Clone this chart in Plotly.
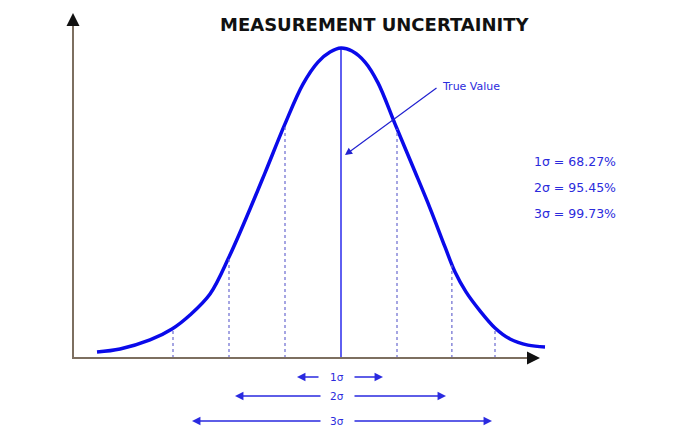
import numpy as np
import plotly.graph_objects as go

# ---- data (x in sigma units, y relative density) ----
curve_x = [-4.357, -3.946, -3.411, -3.018, -2.696, -2.339, -2.0, -1.625, -1.357, -1.0, -0.679, -0.411,
           -0.196, 0.0, 0.196, 0.429, 0.661, 0.964, 1.286, 1.589, 1.857, 2.036, 2.232, 2.482, 2.75,
           3.018, 3.339, 3.643]
curve_y = [0.0065, 0.0163, 0.0458, 0.0817, 0.1275, 0.196, 0.317, 0.474, 0.592, 0.752, 0.882, 0.954,
           0.987, 1.0, 0.990, 0.954, 0.886, 0.752, 0.611, 0.477, 0.350, 0.268, 0.203, 0.141, 0.085,
           0.049, 0.029, 0.023]
sigma_marks = [-3.0, -2.0, -1.0, 1.0, 1.98, 2.75]
true_value = 0.0
legend_lines = ["1σ = 68.27%", "2σ = 95.45%", "3σ = 99.73%"]
band_labels = ["1σ", "2σ", "3σ"]
title_text = "MEASUREMENT UNCERTAINITY"

W, H = 700, 447
X0, PX_PER_UNIT = 341, 56
Y0, PY_PER_UNIT = 354, 306
def dx(px): return (px - X0) / PX_PER_UNIT
def dy(py): return (Y0 - py) / PY_PER_UNIT

BLUE = "#0a0aea"
TXT_BLUE = "#2b2bdc"
AXIS = "#7d6f60"

fig = go.Figure()
fig.add_trace(go.Scatter(x=curve_x, y=curve_y, mode="lines",
                         line=dict(color=BLUE, width=3.5, shape="spline", smoothing=1.0),
                         hoverinfo="skip", showlegend=False))

base = dy(358)
for m in sigma_marks:
    top = float(np.interp(m, curve_x, curve_y))
    fig.add_trace(go.Scatter(x=[m, m], y=[base, top], mode="lines",
                             line=dict(color="#6a6ad0", width=1.2, dash="dot"),
                             hoverinfo="skip", showlegend=False))
fig.add_trace(go.Scatter(x=[true_value, true_value], y=[base, max(curve_y)], mode="lines",
                         line=dict(color=BLUE, width=1.3), hoverinfo="skip", showlegend=False))

shapes = [
    dict(type="line", xref="x", yref="y", x0=dx(73), y0=dy(359), x1=dx(73), y1=dy(20),
         line=dict(color=AXIS, width=2)),
    dict(type="line", xref="x", yref="y", x0=dx(72), y0=dy(358), x1=dx(532), y1=dy(358),
         line=dict(color=AXIS, width=2)),
]

def P(px, py):
    return px / W, 1 - py / H

anns = []
for (hx, hy, ax, ay) in [(73, 13, 0, 7), (540, 358, -7, 0)]:
    x, y = P(hx, hy)
    anns.append(dict(x=x, y=y, xref="paper", yref="paper", ax=ax, ay=ay, text="",
                     showarrow=True, arrowhead=2, arrowsize=1.3, arrowwidth=2, arrowcolor="#111111"))

x, y = P(374, 25)
anns.append(dict(x=x, y=y, xref="paper", yref="paper", text="<b>" + title_text + "</b>", showarrow=False,
                 xanchor="center", yanchor="middle",
                 font=dict(family="DejaVu Sans", size=18, color="#111111")))

x, y = P(345, 155)
anns.append(dict(x=x, y=y, xref="paper", yref="paper", ax=438 - 345, ay=87 - 155, text="",
                 showarrow=True, arrowhead=2, arrowsize=1.2, arrowwidth=1.2, arrowcolor="#2222d0"))
x, y = P(440, 86)
anns.append(dict(x=x, y=y, xref="paper", yref="paper", text="True Value", showarrow=False,
                 xanchor="left", yanchor="middle",
                 font=dict(family="DejaVu Sans", size=11, color=TXT_BLUE)))

for i, t in enumerate(legend_lines):
    x, y = P(532, 161 + 26 * i)
    anns.append(dict(x=x, y=y, xref="paper", yref="paper", text=t, showarrow=False,
                     xanchor="left", yanchor="middle",
                     font=dict(family="DejaVu Sans", size=12.5, color=TXT_BLUE)))

bands = [(377, 297, 320, 353, 383), (396, 235, 322, 353, 446), (421, 192, 322, 353, 492)]
for lab, (py, lh, lt, rt, rh) in zip(band_labels, bands):
    x, y = P(337, py)
    anns.append(dict(x=x, y=y, xref="paper", yref="paper", text=lab, showarrow=False,
                     xanchor="center", yanchor="middle",
                     font=dict(family="DejaVu Sans", size=10.5, color=TXT_BLUE)))
    for head, tail in [(lh, lt), (rh, rt)]:
        x, y = P(head, py)
        anns.append(dict(x=x, y=y, xref="paper", yref="paper", ax=tail - head, ay=0, text="",
                         showarrow=True, arrowhead=2, arrowsize=1.3, arrowwidth=1.3, arrowcolor="#2a2ae0"))

fig.update_layout(
    width=W, height=H, margin=dict(l=0, r=0, t=0, b=0),
    paper_bgcolor="white", plot_bgcolor="white",
    xaxis=dict(range=[dx(0), dx(W)], visible=False, fixedrange=True),
    yaxis=dict(range=[dy(H), dy(0)], visible=False, fixedrange=True),
    shapes=shapes, annotations=anns, showlegend=False,
)
fig.write_html("out.html", post_script="document.body.style.margin='0';",
               config={"displayModeBar": False})
